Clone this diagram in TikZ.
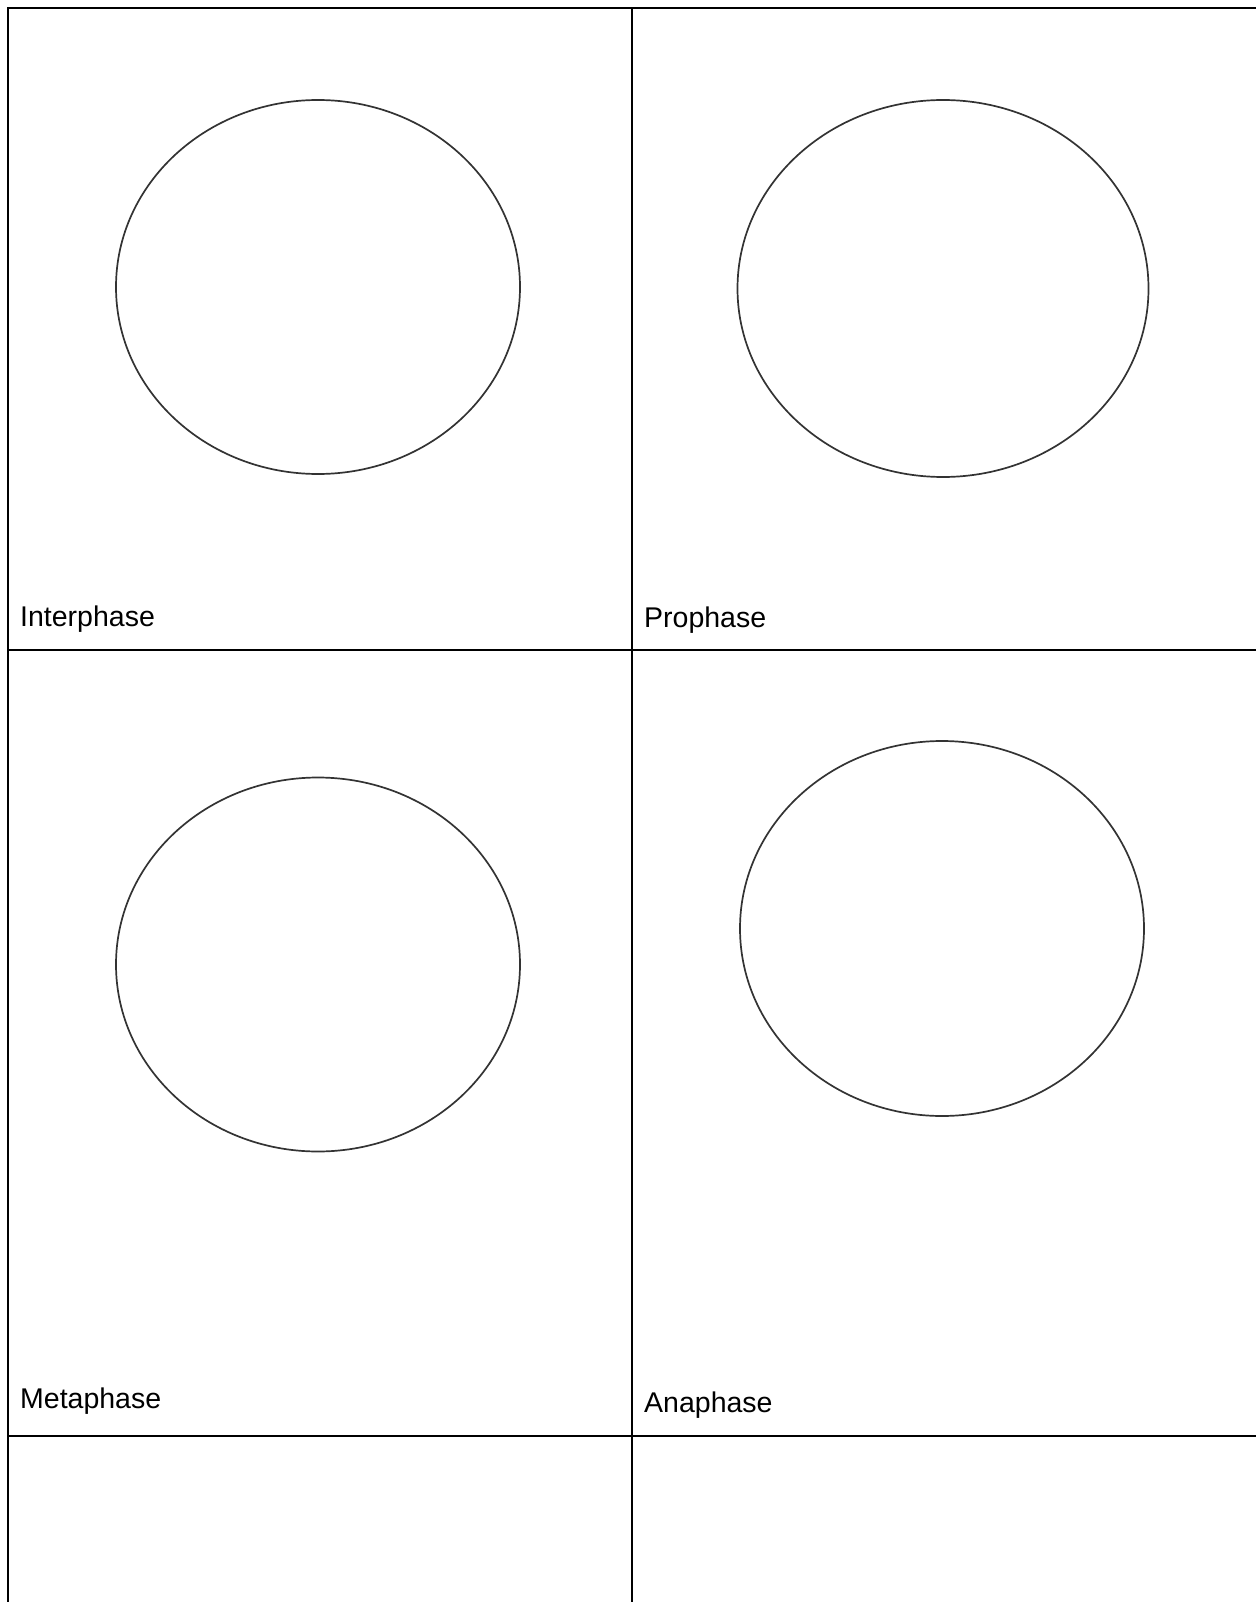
\documentclass[tikz,border=0pt]{standalone}
\usepackage{fontspec}
\setmainfont{Liberation Sans}

\begin{document}
\begin{tikzpicture}[
  x=1pt,
  y=-1pt,
  line join=miter,
  rule/.style={draw=black,line width=2.6pt},
  cell/.style={draw=black!80,line width=1.7pt},
  phase/.style={anchor=base west,inner sep=0pt,font=\fontsize{28.5}{34}\selectfont}
]
  \useasboundingbox (0,0) rectangle (1255,1602);

  % Table corners and rule ends.
  \coordinate (tl) at (8,8);
  \coordinate (tr) at (1256,8);
  \coordinate (bl) at (8,1603);
  \coordinate (mt) at (632,8);
  \coordinate (mb) at (632,1603);
  \coordinate (r1l) at (8,650);
  \coordinate (r1r) at (1256,650);
  \coordinate (r2l) at (8,1436);
  \coordinate (r2r) at (1256,1436);

  \draw[rule] (bl) -- (tl) -- (tr);
  \draw[rule] (mt) -- (mb);
  \draw[rule] (r1l) -- (r1r);
  \draw[rule] (r2l) -- (r2r);

  % Empty cells to draw in.
  \draw[cell] (318,287) ellipse [x radius=202, y radius=187];
  \draw[cell] (943,288.5) ellipse [x radius=205.5, y radius=188.5];
  \draw[cell] (318,964.5) ellipse [x radius=202, y radius=187];
  \draw[cell] (942,928.5) ellipse [x radius=202, y radius=187.5];

  % Phase labels.
  \node[phase] (inter) at (20,626) {Interphase};
  \node[phase] (pro) at (644,627) {Prophase};
  \node[phase] (meta) at (20,1408) {Metaphase};
  \node[phase] (ana) at (644,1412) {Anaphase};
\end{tikzpicture}
\end{document}
